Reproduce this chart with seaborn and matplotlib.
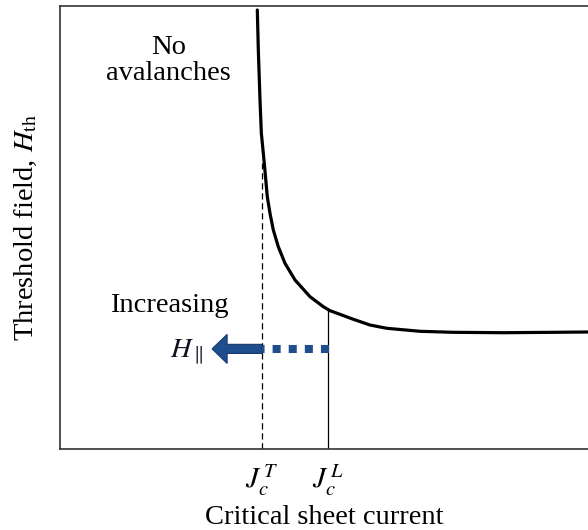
import numpy as np
import matplotlib
matplotlib.use('Agg')
import matplotlib.pyplot as plt
from matplotlib.patches import FancyArrow
import seaborn as sns

sns.set_theme(style='white')
plt.rcParams['font.family'] = ['Liberation Serif', 'DejaVu Serif']
plt.rcParams['mathtext.fontset'] = 'stix'
plt.rcParams['text.color'] = 'black'
plt.rcParams['axes.labelcolor'] = 'black'
plt.rcParams['xtick.color'] = 'black'

# Threshold field curve (arbitrary units)
curve_x = [3.737, 3.756, 3.788, 3.813, 3.869, 3.926, 3.977, 4.040, 4.134,
           4.261, 4.451, 4.735, 4.987, 5.114, 5.271, 5.555, 5.871, 6.188,
           6.818, 7.449, 8.396, 9.343, 10.0]
curve_y = [9.910, 9.007, 7.878, 7.133, 6.449, 5.695, 5.321, 4.944, 4.567,
           4.192, 3.815, 3.438, 3.212, 3.122, 3.054, 2.928, 2.799, 2.725,
           2.657, 2.634, 2.625, 2.634, 2.641]

# Critical currents (tick positions) and labels
jc_values = [3.83, 5.076]
jc_labels = [r'$J_c^{\,T}$', r'$J_c^{\,L}$']
jc_dashed_top = 6.45     # where the dashed line meets the curve
jc_solid_top = 3.14      # where the solid line meets the curve

# Increasing parallel field arrow
arrow_y = 2.26
arrow_start = 3.83
arrow_tip = 2.88

blue = '#1f4e8f'

fig = plt.figure(figsize=(5.88, 5.30), dpi=100)
ax = fig.add_axes([60 / 588, 81 / 530, 528 / 588, 443 / 530])

sns.lineplot(x=curve_x, y=curve_y, ax=ax, color='black', lw=2.3,
             solid_joinstyle='round')

# vertical markers
ax.plot([jc_values[0], jc_values[0]], [0, jc_dashed_top], color='black',
        lw=0.9, linestyle=(0, (5, 3)))
ax.plot([jc_values[1], jc_values[1]], [0, jc_solid_top], color='black', lw=0.9)

# dotted blue segment between the two currents (drawn right to left)
ax.plot([jc_values[1] + 0.016, jc_values[0]], [arrow_y, arrow_y], color=blue,
        lw=5.8, linestyle=(0, (1, 1)), dash_capstyle='butt')

# big arrow to the left
ax.add_patch(FancyArrow(arrow_start, arrow_y, arrow_tip - arrow_start, 0,
                        width=0.205, head_width=0.655, head_length=0.285,
                        length_includes_head=True, facecolor=blue,
                        edgecolor='#163a6b', lw=0.8))

ax.text(2.05, 8.78, 'No\navalanches', ha='center', va='center',
        fontsize=20.5, linespacing=1.05)
ax.text(2.06, 3.25, 'Increasing', ha='center', va='center', fontsize=20.5)
ax.text(2.72, 2.05, r'$H_{\parallel}$', ha='right', va='baseline',
        fontsize=20.5, color='#111122')

ax.set_xlim(0, 10)
ax.set_ylim(0, 10)
ax.set_xticks(jc_values)
ax.set_xticklabels(jc_labels, fontsize=21)
ax.set_yticks([])
ax.tick_params(axis='x', length=0, pad=10)
ax.set_xlabel('Critical sheet current', fontsize=20.5, labelpad=5)
ax.set_ylabel(r'Threshold field, $H_{\mathrm{th}}$', fontsize=20.5, labelpad=15)

for side in ['left', 'top', 'bottom']:
    ax.spines[side].set_color('#333333')
    ax.spines[side].set_linewidth(1.2)
ax.spines['right'].set_visible(False)

fig.savefig('out.png', dpi=100)
